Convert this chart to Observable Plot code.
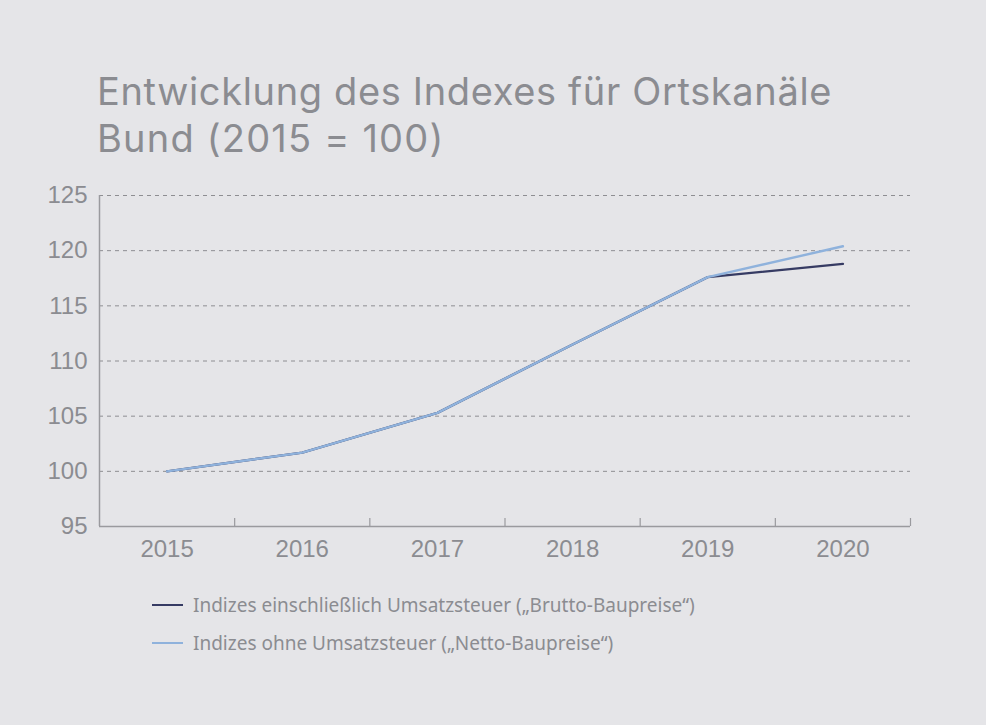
<!DOCTYPE html>
<html><head><meta charset="utf-8">
<script src="https://cdn.jsdelivr.net/npm/d3@7"></script>
<script src="https://cdn.jsdelivr.net/npm/@observablehq/plot@0.6"></script>
<style>
html,body{margin:0;padding:0;background:#e5e5e8;}
#wrap{position:relative;width:986px;height:725px;background:#e5e5e8;overflow:hidden;}
.title{position:absolute;left:97px;font-family:Inter,"Noto Sans",sans-serif;font-size:38px;line-height:38px;color:#8b8c91;white-space:nowrap;letter-spacing:0.65px;}
#t1{top:72px;}
#t2{top:119px;letter-spacing:1.2px;}
#chart{position:absolute;left:0;top:170px;}
#legend{position:absolute;left:152px;top:586px;font-family:"Noto Sans",sans-serif;font-size:19px;color:#8b8c91;}
.item{display:flex;align-items:center;height:38px;}
.sw{width:31px;height:2px;margin-right:10px;}
</style></head>
<body><div id="wrap">
<div class="title" id="t1">Entwicklung des Indexes für Ortskanäle</div>
<div class="title" id="t2">Bund (2015 = 100)</div>
<div id="chart"></div>
<div id="legend"></div>
</div>
<script>
const years = [2015, 2016, 2017, 2018, 2019, 2020];
const brutto = [100, 101.7, 105.3, 111.5, 117.6, 118.8];
const netto = [100, 101.7, 105.3, 111.5, 117.6, 120.4];
const seriesNames = ["Indizes einschließlich Umsatzsteuer („Brutto-Baupreise“)", "Indizes ohne Umsatzsteuer („Netto-Baupreise“)"];
const seriesColors = ["#363b63", "#8fb2dc"];
const yTicks = [95, 100, 105, 110, 115, 120, 125];
const gridTicks = [100, 105, 110, 115, 120, 125];
const bandEdges = [2014.5, 2015.5, 2016.5, 2017.5, 2018.5, 2019.5, 2020.5];

const data = [];
years.forEach((y, i) => data.push({year: y, value: brutto[i], series: seriesNames[0]}));
years.forEach((y, i) => data.push({year: y, value: netto[i], series: seriesNames[1]}));

const axisColor = "#9a9a9e";
const textColor = "#8b8c91";

const plot = Plot.plot({
  width: 986,
  height: 400,
  marginTop: 25,
  marginBottom: 44,
  marginLeft: 99,
  marginRight: 76,
  style: {background: "transparent", fontFamily: "'Liberation Sans', Arial, sans-serif", fontSize: "24px", color: textColor},
  x: {type: "linear", domain: [2014.5, 2020.5]},
  y: {type: "linear", domain: [95, 125]},
  color: {domain: seriesNames, range: seriesColors},
  marks: [
    Plot.ruleY(gridTicks, {stroke: "#8e8e92", strokeDasharray: "4,4", strokeWidth: 1}),
    Plot.ruleX([2014.5], {y1: 95, y2: 125, stroke: axisColor, strokeWidth: 1.5}),
    Plot.ruleY([95], {stroke: axisColor, strokeWidth: 1.5}),
    Plot.ruleX(bandEdges.slice(1), {y1: 95, y2: 95, insetTop: -8, stroke: axisColor, strokeWidth: 1.2}),
    Plot.axisY(yTicks, {tickSize: 0, tickPadding: 12, fontSize: 24, fill: textColor, label: null}),
    Plot.axisX(years, {tickSize: 0, tickPadding: 13, fontSize: 24, fill: textColor, label: null, tickFormat: d => String(d)}),
    Plot.line(data.filter(d => d.series === seriesNames[0]), {x: "year", y: "value", stroke: "series", strokeWidth: 2.4}),
    Plot.line(data.filter(d => d.series === seriesNames[1]), {x: "year", y: "value", stroke: "series", strokeWidth: 2.4})
  ]
});
document.getElementById("chart").appendChild(plot);

const leg = document.getElementById("legend");
seriesNames.forEach((n, i) => {
  const it = document.createElement("div");
  it.className = "item";
  it.innerHTML = `<div class="sw" style="background:${seriesColors[i]}"></div><span>${n}</span>`;
  leg.appendChild(it);
});
</script>
</body></html>
